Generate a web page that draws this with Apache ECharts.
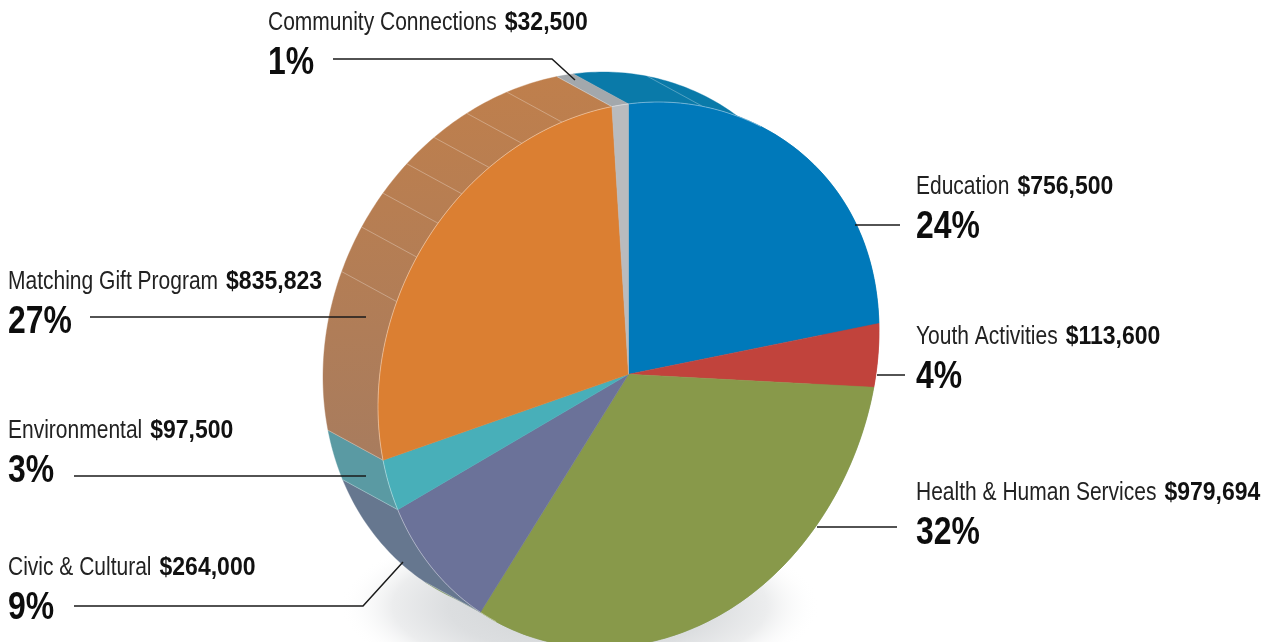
<!DOCTYPE html>
<html><head><meta charset="utf-8">
<style>html,body{margin:0;padding:0;background:#fff}#c{width:1272px;height:642px}</style>
<script src="https://cdn.jsdelivr.net/npm/echarts@6/dist/echarts.min.js"></script>
</head><body><div id="c"></div>
<script>
// Data
const categories = ['Education','Youth Activities','Health & Human Services','Civic & Cultural','Environmental','Matching Gift Program','Community Connections'];
const amounts = [756500,113600,979694,264000,97500,835823,32500];
const percentLabels = ['24%','4%','32%','9%','3%','27%','1%'];
// Styles
const frontColors = ['#0079ba','#c1433c','#88994a','#6b7299','#48afb9','#db7f32','#b9bbbe'];
const sideColors = ['#0a7aa9','#c1433c','#7f9a5a','#66778f','#5a9aa3',null,'#a3a8ac'];
const facetAngles = [17.2,292.3,302.3,310.5,318.3,326.2,334.8,344.6];
// Layout of the tilted disc
const G = {cx:628.5, cy:374.8, ax:250.5, sh:-32, bulge:-12, ay:270.9, ox:-55, oy:-30, tanA:31.9, tanB:211.9};
const textX = [916,916,916,8,8,8,268];
const nameY = [187,337,493,568,431,282,23];
const pctY  = [228,378,534,609,472,323,64];
const leaders = [
 [[855,225],[900,225]],
 [[877,375],[905,375]],
 [[817,527],[897,527]],
 [[74,606],[363,606],[403,562]],
 [[74,476],[366,476]],
 [[90,317],[366,317]],
 [[333,59],[552,59],[575,80]]
];
const total = amounts.reduce((a,b)=>a+b,0);
const starts = []; { let c=0; amounts.forEach(v=>{starts.push(c); c+=v/total*360;}); }
function pt(deg, back){
  const r=deg*Math.PI/180, u=Math.sin(r), v=-Math.cos(r);
  const extra = u>0 ? G.bulge*Math.pow(u,3.4) : 0;
  return [G.cx+G.ax*u+(back?G.ox:0), G.cy+G.sh*u+extra+G.ay*v+(back?G.oy:0)];
}
function arc(a0,a1,back){
  const n=Math.max(2,Math.ceil(Math.abs(a1-a0))), o=[];
  for(let i=0;i<=n;i++) o.push(pt(a0+(a1-a0)*i/n,back));
  return o;
}
const matchingSide = new echarts.graphic.LinearGradient(0,0,0,1,[{offset:0,color:'#bf7f4c'},{offset:1,color:'#a87c5e'}]);
const edge = 'rgba(255,255,255,0.42)';
function renderShadow(){
  return {type:'circle',x:580,y:606,scaleX:1,scaleY:0.36,shape:{cx:0,cy:0,r:240},
    style:{fill:new echarts.graphic.RadialGradient(0.5,0.5,0.5,[{offset:0,color:'#cfd2d4'},{offset:0.55,color:'#dcdee0'},{offset:0.78,color:'#ecedee'},{offset:1,color:'rgba(255,255,255,0)'}])}};
}
function renderSide(p,api){
  const i=api.value(0), a0=starts[i], a1=a0+api.value(1)/total*360;
  const col=sideColors[i]||matchingSide;
  const pts=arc(a0,a1,false).concat(arc(a1,a0,true));
  const kids=[{type:'polygon',shape:{points:pts},style:{fill:col,stroke:col,lineWidth:0.4}}];
  if(i>=3) kids.push({type:'line',shape:{x1:pt(a0)[0],y1:pt(a0)[1],x2:pt(a0,true)[0],y2:pt(a0,true)[1]},style:{stroke:edge,lineWidth:0.7}});
  return {type:'group',children:kids};
}
function renderFacet(p,api){
  const a=api.value(0), f=pt(a), b=pt(a,true);
  return {type:'line',shape:{x1:f[0],y1:f[1],x2:b[0],y2:b[1]},style:{stroke:edge,lineWidth:0.7}};
}
function renderFront(p,api){
  const i=api.value(0), a0=starts[i], a1=a0+api.value(1)/total*360;
  const pts=[[G.cx,G.cy-0.5]].concat(arc(a0,a1,false));
  const kids=[{type:'polygon',shape:{points:pts},style:{fill:frontColors[i],stroke:frontColors[i],lineWidth:0.5}}];
  [[G.tanB,360],[0,G.tanA]].forEach(r=>{
    const s=Math.max(a0,r[0]), e=Math.min(a1,r[1]);
    if(e>s) kids.push({type:'polyline',shape:{points:arc(s,e,false)},style:{stroke:'rgba(255,255,255,0.5)',lineWidth:0.8,fill:null}});
  });
  return {type:'group',children:kids};
}
const family='"Liberation Sans",sans-serif';
const nameScale=0.84, amtScale=0.92, amtGap=8;
const ctx=document.createElement('canvas').getContext('2d');
function nameWidth(s){ ctx.font='25px "Liberation Sans"'; return ctx.measureText(s).width*nameScale; }
function renderLabel(p,api){
  const i=api.value(0), name=categories[i], amt='$'+amounts[i].toLocaleString('en-US');
  return {type:'group',children:[
    {type:'polyline',shape:{points:leaders[i]},style:{stroke:'#1a1a1a',lineWidth:1.5,fill:null}},
    {type:'text',x:textX[i],y:nameY[i],scaleX:nameScale,style:{text:name,verticalAlign:'middle',align:'left',fontFamily:family,fontSize:25,fill:'#222'}},
    {type:'text',x:textX[i]+nameWidth(name)+amtGap,y:nameY[i],scaleX:amtScale,style:{text:amt,verticalAlign:'middle',align:'left',fontFamily:family,fontSize:25,fontWeight:'bold',fill:'#111'}},
    {type:'text',x:textX[i],y:pctY[i],scaleX:0.84,style:{text:percentLabels[i],verticalAlign:'middle',align:'left',fontFamily:family,fontSize:38,fontWeight:'bold',fill:'#0d0d0d'}}
  ]};
}
const rows = categories.map((c,i)=>[i,amounts[i],c]);
const chart = echarts.init(document.getElementById('c'));
chart.setOption({
  animation:false,
  backgroundColor:'#fff',
  series:[
    {type:'custom',coordinateSystem:'none',z:1,silent:true,data:[[0]],renderItem:renderShadow},
    {type:'custom',coordinateSystem:'none',z:2,silent:true,data:rows,renderItem:renderSide},
    {type:'custom',coordinateSystem:'none',z:3,silent:true,data:facetAngles.map(a=>[a]),renderItem:renderFacet},
    {type:'custom',coordinateSystem:'none',z:4,silent:true,data:rows,renderItem:renderFront},
    {type:'custom',coordinateSystem:'none',z:5,silent:true,data:rows,renderItem:renderLabel}
  ]
});
</script></body></html>
